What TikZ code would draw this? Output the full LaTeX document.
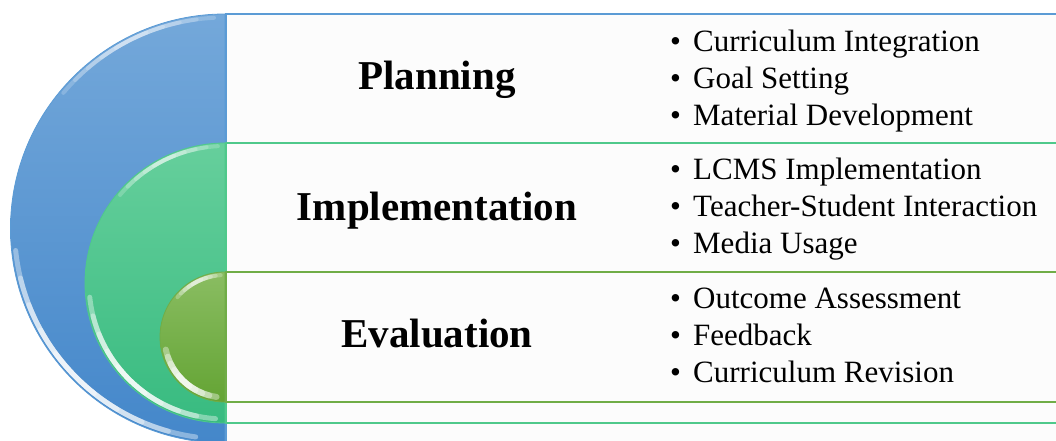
\documentclass[tikz,border=0pt]{standalone}
\usepackage{fontspec}
\setmainfont{Liberation Serif}
\usetikzlibrary{positioning}

\definecolor{planline}{HTML}{5B9BD5}
\definecolor{plantop}{HTML}{74A8DA}
\definecolor{planbot}{HTML}{4487CA}
\definecolor{implline}{HTML}{4FC98B}
\definecolor{impltop}{HTML}{66CF9C}
\definecolor{implbot}{HTML}{38BB80}
\definecolor{evalline}{HTML}{70AD47}
\definecolor{evaltop}{HTML}{8ABD62}
\definecolor{evalbot}{HTML}{64A434}

\newcommand{\itembullet}{\makebox[23pt][l]{\textbullet}}
% soft rim highlight: centre, radius, from, to, width, opacity
\newcommand{\rimglow}[6]{%
  \foreach \k in {0,...,4}
    \draw[white, line width=#5, opacity=#6, line cap=round]
      #1 ++({#3+\k*(#4-#3)/10}:#2)
      arc[start angle={#3+\k*(#4-#3)/10}, end angle={#4-\k*(#4-#3)/10}, radius=#2];}

\begin{document}
\begin{tikzpicture}[
    x=1pt, y=1pt,
    every node/.style={inner sep=0pt},
    title/.style={font=\fontsize{41}{41}\selectfont\bfseries, anchor=base},
    items/.style={font=\fontsize{31}{37}\selectfont, align=left, anchor=north west},
    band/.style={line width=1.6pt, fill=white!99!black},
    dome/.style={draw=#1, line width=0.8pt},
]

\useasboundingbox (0,0) rectangle (1056,441);
\clip (0,0) rectangle (1056,441);

% --- Half discs ---
\shade[dome=planline, top color=plantop, bottom color=planbot]
    (225,427) arc[start angle=90, end angle=270, radius=214.5] -- cycle;
\rimglow{(225,212.5)}{210.5}{186}{262}{5pt}{0.38}
\rimglow{(225,212.5)}{211}{93}{140}{4pt}{0.2}

\shade[dome=implline, top color=impltop, bottom color=implbot]
    (225,298) arc[start angle=90, end angle=270, radius=140] -- cycle;
\rimglow{(225,158)}{136}{186}{266}{5pt}{0.38}
\rimglow{(225,158)}{137}{93}{140}{4pt}{0.2}

\shade[dome=evalline, top color=evaltop, bottom color=evalbot]
    (225,169) arc[start angle=90, end angle=270, radius=65] -- cycle;
\rimglow{(225,104)}{60.5}{192}{262}{6pt}{0.38}
\rimglow{(225,104)}{62}{94}{140}{4pt}{0.25}

% --- Bands (widest first) ---
\draw[band, draw=planline] (226,-10) rectangle (1070,427);
\draw[band, draw=implline] (226,18) rectangle (1070,298);
\draw[band, draw=evalline] (226,39) rectangle (1070,169);

% --- Stage names ---
\node[title] (plan) at (437,351) {Planning};
\node[title] (impl) at (437,220.3) {Implementation};
\node[title] (eval) at (437,93) {Evaluation};

% --- Stage activities ---
\node[items] (planlist) at (670,411.5)
    {\itembullet Curriculum Integration\\\itembullet Goal Setting\\\itembullet Material Development};
\node[items] (impllist) at (670,283)
    {\itembullet LCMS Implementation\\\itembullet Teacher-Student Interaction\\\itembullet Media Usage};
\node[items] (evallist) at (670,153.5)
    {\itembullet Outcome Assessment\\\itembullet Feedback\\\itembullet Curriculum Revision};

\end{tikzpicture}
\end{document}
